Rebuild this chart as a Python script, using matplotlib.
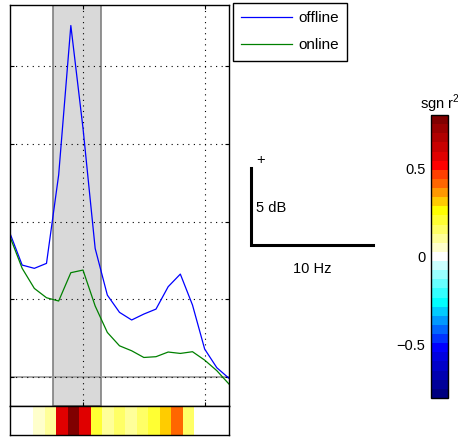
import matplotlib
matplotlib.use("Agg")
import matplotlib.pyplot as plt
import numpy as np
from matplotlib.colors import ListedColormap
from matplotlib.cm import ScalarMappable
from matplotlib.colors import Normalize

plt.rcParams['font.family'] = ['Liberation Sans', 'DejaVu Sans']
plt.rcParams['mathtext.fontset'] = 'custom'
plt.rcParams['mathtext.rm'] = 'Liberation Sans'
plt.rcParams['font.size'] = 10.5

# Spectra (dB) at 1 Hz bins
freqs = np.arange(4, 23)
offline = [9.24, 7.2, 6.99, 7.31, 13.0, 22.6, 16.0, 8.27, 5.27, 4.16,
           3.67, 4.05, 4.37, 5.81, 6.62, 4.63, 1.8, 0.6, -0.08]
online = [9.02, 6.99, 5.7, 5.1, 4.89, 6.71, 6.88, 4.57, 2.87, 2.01,
          1.69, 1.26, 1.31, 1.61, 1.52, 1.63, 1.09, 0.41, -0.45]

# signed r^2 per bin
r2 = [0.0, 0.0, 0.06, 0.11, 0.57, 0.78, 0.57, 0.21, 0.11, 0.16,
      0.11, 0.16, 0.21, 0.31, 0.41, 0.16, 0.0, 0.0, 0.0]

band = (7.5, 11.5)

cmap = ListedColormap([
    '#000080', '#000099', '#0000b0', '#0000c8', '#0000e0', '#0000ff',
    '#0033ff', '#0066ff', '#0099ff', '#00ccff', '#00ffff', '#33ffff',
    '#66ffff', '#99ffff', '#ccffff', '#ffffff', '#ffffcc', '#ffff99',
    '#ffff66', '#ffff33', '#ffff00', '#ffcc00', '#ff9900', '#ff6600',
    '#ff4000', '#ff0000', '#e00000', '#c80000', '#b00000', '#990000',
    '#800000'])

W, H = 458, 438
fig = plt.figure(figsize=(W / 100, H / 100), dpi=100)

def px_axes(x0, y0, x1, y1):
    return fig.add_axes([x0 / W, 1 - y1 / H, (x1 - x0) / W, (y1 - y0) / H])

# main spectrum axes
ax = px_axes(10, 5, 229, 406)
ax.axvspan(band[0], band[1], facecolor='#d9d9d9', edgecolor='#808080', lw=1.2, zorder=1)
ax.axhline(0, color='#9a9a9a', lw=1.2, zorder=1.2)
l1, = ax.plot(freqs, offline, color='#0000ff', lw=0.9, label='offline')
l2, = ax.plot(freqs, online, color='#008000', lw=0.9, label='online')
ax.set_xlim(4, 22)
ax.set_ylim(-1.86, 23.92)
ax.set_xticks([10, 20])
ax.set_yticks([0, 5, 10, 15, 20])
ax.grid(True, color='black', lw=0.8, linestyle=(0, (1, 4)))
ax.tick_params(direction='in', length=3, top=True, right=True,
               labelleft=False, labelbottom=False)
for s in ax.spines.values():
    s.set_linewidth(1.0)

# r^2 strip
ax_s = px_axes(10, 406, 229, 435)
ax_s.imshow(np.array(r2)[None, :], cmap=cmap, vmin=-0.8, vmax=0.8, aspect='auto')
ax_s.set_xticks([])
ax_s.set_yticks([])
for s in ax_s.spines.values():
    s.set_linewidth(1.0)

# legend
leg = fig.legend(handles=[l1, l2], loc='upper left', bbox_to_anchor=(233 / W, 1 - 3 / H),
                 fancybox=False, edgecolor='black', framealpha=1, handlelength=3.3,
                 handletextpad=0.4, labelspacing=0.85, borderpad=0.55,
                 borderaxespad=0, fontsize=11)
leg.get_frame().set_linewidth(1.0)

# scale bar
ax_b = px_axes(251, 168, 373, 245)
ax_b.plot([0, 0, 10], [5, 0, 0], color='black', lw=2.2, clip_on=False,
          solid_joinstyle='miter')
ax_b.set_xlim(0, 10)
ax_b.set_ylim(0, 5)
ax_b.text(0.4, 5.55, '+', ha='left', va='center')
ax_b.text(0.4, 2.4, '5 dB', ha='left', va='center')
ax_b.text(5, -1.55, '10 Hz', ha='center', va='center')
ax_b.axis('off')

# colorbar
cax = px_axes(431, 115, 448, 398)
cb = fig.colorbar(ScalarMappable(norm=Normalize(-0.8, 0.8), cmap=cmap), cax=cax)
cb.set_ticks([-0.5, 0, 0.5])
cb.set_ticklabels(['\u22120.5', '0', '0.5'])
cax.yaxis.set_ticks_position('left')
cax.tick_params(length=0, pad=4)
cb.outline.set_linewidth(1.0)
cax.set_title(r'sgn r$^{\mathregular{2}}$', pad=-2, fontsize=10.5)

fig.savefig('out.png', dpi=100)
